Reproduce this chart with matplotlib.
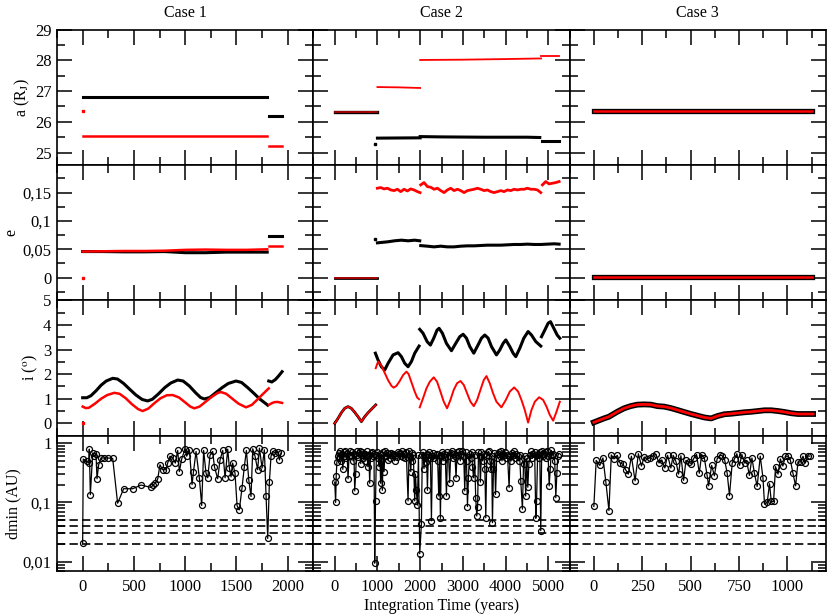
import numpy as np
import matplotlib
matplotlib.use("Agg")
import matplotlib.pyplot as plt
from matplotlib.ticker import MultipleLocator, FuncFormatter, LogLocator, NullFormatter

plt.rcParams['font.family'] = ['Liberation Serif', 'DejaVu Serif']
plt.rcParams['mathtext.fontset'] = 'stix'
plt.rcParams['font.size'] = 11.5

# ---------------- Case 1 ----------------
# semi-major axis (R_J)
c1_a_t1 = [0, 1800]
c1_a_black1 = [26.82, 26.82]
c1_a_red1 = [25.55, 25.55]
c1_a_t2 = [1820, 1940]
c1_a_black2 = [26.2, 26.2]
c1_a_red2 = [25.2, 25.2]
c1_a_red0 = (0, 26.35)

# eccentricity
c1_e_t1 = [0, 200, 400, 600, 800, 1000, 1200, 1400, 1600, 1800]
c1_e_black1 = [0.046, 0.046, 0.0455, 0.0455, 0.046, 0.044, 0.044, 0.045, 0.045, 0.045]
c1_e_red1 = [0.046, 0.0465, 0.047, 0.047, 0.0475, 0.049, 0.0495, 0.049, 0.049, 0.050]
c1_e_t2 = [1820, 1940]
c1_e_black2 = [0.073, 0.073]
c1_e_red2 = [0.0565, 0.0565]
c1_e_red0 = (0, 0.0)

# inclination (deg)
c1_i_bt1 = [0, 40, 80, 130, 180, 230, 293, 340, 400, 460, 520, 580, 634, 680, 740, 800, 860,
            927, 980, 1040, 1100, 1150, 1187, 1240, 1300, 1360, 1420, 1496, 1550, 1610, 1670,
            1730, 1805]
c1_i_black1 = [1.04, 1.04, 1.12, 1.32, 1.55, 1.72, 1.83, 1.8, 1.62, 1.38, 1.15, 0.97, 0.91, 0.98,
               1.2, 1.45, 1.64, 1.76, 1.72, 1.52, 1.25, 1.05, 0.99, 1.05, 1.25, 1.45, 1.62, 1.72,
               1.66, 1.45, 1.22, 0.98, 0.74]
c1_i_bt2 = [1815, 1845, 1880, 1910, 1945]
c1_i_black2 = [1.72, 1.68, 1.78, 1.92, 2.1]
c1_i_rt1 = [0, 30, 60, 120, 180, 240, 309, 360, 420, 480, 540, 585, 640, 700, 760, 820, 878,
            940, 1000, 1050, 1089, 1140, 1200, 1260, 1320, 1350, 1400, 1460, 1520, 1593, 1650,
            1700, 1760, 1815]
c1_i_red1 = [0.68, 0.62, 0.63, 0.8, 1.0, 1.15, 1.24, 1.2, 1.02, 0.78, 0.58, 0.5, 0.6, 0.82, 1.02,
             1.14, 1.15, 1.05, 0.85, 0.68, 0.61, 0.68, 0.88, 1.08, 1.24, 1.27, 1.2, 1.0, 0.8,
             0.65, 0.75, 0.95, 1.2, 1.42]
c1_i_rt2 = [1820, 1845, 1870, 1900, 1945]
c1_i_red2 = [0.76, 0.82, 0.86, 0.87, 0.83]
c1_i_red0 = (0, 0.0)

# minimum distance (AU)
c1_d_t = [0, 6, 39, 59, 65, 75, 98, 114, 130, 140, 156, 179, 211, 244, 293, 341, 400, 488, 569,
          667, 689, 709, 732, 754, 780, 813, 829, 852, 878, 904, 927, 943, 966, 998, 1015, 1041,
          1067, 1080, 1106, 1138, 1161, 1180, 1203, 1220, 1242, 1268, 1285, 1317, 1340, 1366,
          1389, 1415, 1431, 1447, 1463, 1486, 1506, 1528, 1554, 1577, 1597, 1620, 1642, 1659,
          1681, 1707, 1724, 1750, 1772, 1789, 1805, 1821, 1837, 1854, 1880, 1902, 1919, 1935]
c1_d = [0.0206, 0.537, 0.49, 0.46, 0.79, 0.135, 0.68, 0.60, 0.66, 0.25, 0.43, 0.56, 0.56, 0.56,
        0.55, 0.097, 0.17, 0.17, 0.196, 0.179, 0.196, 0.212, 0.247, 0.43, 0.355, 0.355, 0.46,
        0.60, 0.56, 0.46, 0.75, 0.33, 0.54, 0.79, 0.6, 0.77, 0.2, 0.32, 0.72, 0.26, 0.089, 0.75,
        0.31, 0.26, 0.62, 0.72, 0.4, 0.25, 0.52, 0.75, 0.26, 0.79, 0.38, 0.27, 0.46, 0.31, 0.088,
        0.075, 0.174, 0.4, 0.75, 0.24, 0.126, 0.8, 0.6, 0.355, 0.82, 0.38, 0.77, 0.126, 0.0247,
        0.218, 0.6, 0.72, 0.68, 0.7, 0.52, 0.68]

# ---------------- Case 2 ----------------
c2_a_t0 = [0, 1000]
c2_a_both0 = [26.33, 26.33]
c2_a_rt1 = [1000, 1500, 2000]
c2_a_red1 = [27.13, 27.12, 27.1]
c2_a_rt2 = [2000, 3000, 4000, 4830]
c2_a_red2 = [28.01, 28.02, 28.04, 28.06]
c2_a_rt3 = [4840, 5250]
c2_a_red3 = [28.14, 28.14]
c2_a_bt1 = [1000, 2000]
c2_a_black1 = [25.47, 25.48]
c2_a_bt2 = [2000, 2500, 3500, 4500, 4800]
c2_a_black2 = [25.52, 25.51, 25.5, 25.5, 25.49]
c2_a_bt3 = [4850, 5250]
c2_a_black3 = [25.37, 25.37]
c2_a_black0 = (940, 25.27)

c2_e_t0 = [0, 1000]
c2_e_both0 = [0.0, 0.0]
c2_e_bt1 = [1000, 1080, 1240, 1400, 1560, 1720, 1870, 1990]
c2_e_black1 = [0.0614, 0.062, 0.0632, 0.065, 0.0661, 0.065, 0.0661, 0.065]
c2_e_bt2 = [2013, 2169, 2325, 2481, 2637, 2793, 2950, 3106, 3262, 3418, 3574, 3730, 3887, 4043,
            4199, 4355, 4511, 4667, 4823, 4979, 5136, 5253]
c2_e_black2 = [0.0565, 0.0555, 0.0543, 0.0555, 0.0543, 0.0543, 0.0555, 0.0561, 0.0561, 0.0567,
               0.0573, 0.0573, 0.0573, 0.0579, 0.0585, 0.0585, 0.0591, 0.0585, 0.0585, 0.0591,
               0.0597, 0.0591]
c2_e_black0 = (940, 0.068)
c2_e_rt1 = [998, 1077, 1155, 1233, 1311, 1389, 1467, 1545, 1623, 1701, 1779, 1857, 1935, 1998]
c2_e_red1 = [0.1578, 0.159, 0.1566, 0.1578, 0.1548, 0.1536, 0.156, 0.1518, 0.156, 0.153, 0.1566,
             0.1548, 0.1518, 0.1501]
c2_e_rt2 = [2013, 2091, 2169, 2248, 2326, 2404, 2482, 2560, 2638, 2716, 2794, 2872, 2950, 3028,
            3106, 3184, 3262, 3340, 3418, 3496, 3574, 3652, 3730, 3809, 3887, 3965, 4043, 4121,
            4199, 4277, 4355, 4433, 4511, 4589, 4667, 4745, 4823]
c2_e_red2 = [0.1637, 0.1678, 0.1607, 0.1595, 0.156, 0.1578, 0.1536, 0.1501, 0.1548, 0.1578,
             0.1536, 0.156, 0.1536, 0.1501, 0.1536, 0.1548, 0.156, 0.1578, 0.156, 0.1536, 0.1548,
             0.1518, 0.1501, 0.1518, 0.1536, 0.1518, 0.1548, 0.1536, 0.156, 0.1548, 0.156, 0.156,
             0.1578, 0.156, 0.156, 0.1548, 0.1501]
c2_e_rt3 = [4862, 4940, 5018, 5096, 5174, 5253]
c2_e_red3 = [0.1637, 0.1696, 0.1654, 0.1666, 0.1678, 0.1696]

c2_i_t0 = [0, 77, 155, 233, 312, 390, 468, 546, 624, 702, 780, 858, 960]
c2_i_both0 = [0.0, 0.2, 0.43, 0.61, 0.68, 0.61, 0.45, 0.27, 0.07, 0.27, 0.43, 0.57, 0.75]
c2_i_rt1 = [960, 1015, 1090, 1170, 1250, 1330, 1380, 1444, 1522, 1600, 1678, 1730, 1800, 1870,
            1930, 1975]
c2_i_red1 = [2.24, 2.51, 2.35, 2.05, 1.75, 1.52, 1.45, 1.52, 1.72, 1.96, 2.1, 2.0, 1.65, 1.3,
             1.05, 0.98]
c2_i_rt2 = [1990, 2068, 2147, 2225, 2318, 2396, 2474, 2552, 2630, 2708, 2786, 2864, 2943, 3021,
            3099, 3177, 3255, 3333, 3411, 3489, 3552, 3629, 3707, 3785, 3902, 4005, 4098, 4200,
            4293, 4371, 4449, 4527, 4605, 4684, 4785, 4879, 4957, 5035, 5113, 5191, 5269]
c2_i_red2 = [0.65, 1.02, 1.42, 1.69, 1.87, 1.69, 1.29, 0.88, 0.61, 0.95, 1.36, 1.63, 1.72, 1.56,
             1.22, 0.88, 0.70, 0.95, 1.36, 1.76, 1.92, 1.63, 1.22, 0.88, 0.65, 0.95, 1.29, 1.46,
             1.29, 0.95, 0.54, 0.03, 0.54, 0.88, 1.06, 0.95, 0.68, 0.34, 0.11, 0.47, 0.88]
c2_i_bt1 = [952, 1015, 1092, 1171, 1249, 1366, 1483, 1561, 1639, 1717, 1795, 1873, 1975]
c2_i_black1 = [2.85, 2.57, 2.30, 2.17, 2.44, 2.78, 2.87, 2.71, 2.44, 2.30, 2.51, 2.85, 3.14]
c2_i_bt2 = [1990, 2068, 2163, 2240, 2318, 2396, 2443, 2521, 2615, 2732, 2833, 2927, 3005, 3084,
            3162, 3255, 3357, 3435, 3513, 3591, 3669, 3786, 3864, 3942, 4005, 4098, 4176, 4238,
            4332, 4426, 4527, 4605, 4707, 4824]
c2_i_black2 = [3.82, 3.66, 3.32, 3.18, 3.46, 3.79, 3.86, 3.66, 3.25, 2.95, 3.25, 3.52, 3.62, 3.46,
               3.12, 2.85, 3.19, 3.46, 3.59, 3.46, 3.12, 2.78, 2.98, 3.25, 3.39, 3.12, 2.85, 2.71,
               3.05, 3.46, 3.73, 3.59, 3.32, 3.14]
c2_i_bt3 = [4840, 4918, 4996, 5051, 5129, 5207, 5269]
c2_i_black3 = [3.52, 3.79, 4.07, 4.13, 3.86, 3.59, 3.46]

c2_d_t = [0, 22, 35, 50, 70, 90, 110, 130, 150, 170, 190, 210, 230, 250, 270, 290, 312, 335, 360,
          385, 410, 430, 450, 468, 490, 510, 530, 550, 570, 590, 610, 630, 650, 670, 690, 710,
          730, 750, 775, 800, 819, 840, 860, 880, 900, 920, 936, 955, 975, 995, 1015, 1035, 1055,
          1075, 1095, 1115, 1135, 1155, 1175, 1200, 1225, 1250, 1275, 1300, 1325, 1350, 1375,
          1400, 1425, 1450, 1475, 1500, 1525, 1550, 1575, 1600, 1625, 1650, 1675, 1717, 1740,
          1760, 1780, 1800, 1820, 1840, 1873, 1890, 1910, 1935, 1960, 1990, 2029, 2050, 2070,
          2090, 2110, 2130, 2150, 2170, 2190, 2215, 2240, 2264, 2285, 2310, 2335, 2360, 2385,
          2410, 2435, 2455, 2474, 2495, 2515, 2535, 2560, 2590, 2615, 2640, 2665, 2690, 2715,
          2740, 2765, 2790, 2815, 2840, 2865, 2890, 2915, 2940, 2965, 2990, 3020, 3044, 3065,
          3085, 3107, 3130, 3155, 3180, 3205, 3225, 3250, 3275, 3300, 3325, 3345, 3365, 3390,
          3410, 3435, 3460, 3490, 3515, 3536, 3560, 3580, 3605, 3630, 3655, 3675, 3692, 3715,
          3740, 3765, 3790, 3815, 3840, 3865, 3890, 3915, 3940, 3965, 3990, 4020, 4045, 4082,
          4105, 4130, 4155, 4180, 4205, 4230, 4255, 4280, 4305, 4330, 4355, 4394, 4420, 4445,
          4470, 4495, 4520, 4545, 4570, 4600, 4625, 4650, 4680, 4707, 4725, 4750, 4775, 4800,
          4823, 4845, 4870, 4895, 4920, 4945, 4970, 4995, 5020, 5045, 5070, 5095, 5120, 5150,
          5175, 5200, 5220, 5240]
c2_d = [0.22, 0.10, 0.28, 0.47, 0.61, 0.68, 0.55, 0.72, 0.5, 0.65, 0.36, 0.7, 0.6, 0.72, 0.55,
        0.66, 0.25, 0.6, 0.72, 0.62, 0.7, 0.5, 0.66, 0.156, 0.3, 0.62, 0.72, 0.58, 0.68, 0.73,
        0.45, 0.62, 0.7, 0.55, 0.66, 0.5, 0.63, 0.72, 0.4, 0.62, 0.21, 0.68, 0.55, 0.7, 0.6, 0.66,
        0.0095, 0.106, 0.62, 0.7, 0.55, 0.4, 0.66, 0.21, 0.62, 0.16, 0.7, 0.33, 0.72, 0.6, 0.68,
        0.52, 0.65, 0.55, 0.68, 0.62, 0.66, 0.5, 0.62, 0.58, 0.7, 0.65, 0.68, 0.6, 0.72, 0.58,
        0.66, 0.55, 0.7, 0.106, 0.74, 0.6, 0.33, 0.68, 0.5, 0.62, 0.106, 0.3, 0.16, 0.09, 0.62,
        0.0137, 0.043, 0.62, 0.7, 0.37, 0.6, 0.48, 0.66, 0.16, 0.62, 0.7, 0.55, 0.049, 0.6, 0.68,
        0.55, 0.62, 0.66, 0.5, 0.128, 0.6, 0.054, 0.62, 0.7, 0.5, 0.66, 0.58, 0.128, 0.7, 0.6,
        0.216, 0.68, 0.72, 0.55, 0.66, 0.6, 0.26, 0.7, 0.62, 0.72, 0.5, 0.66, 0.72, 0.6, 0.156,
        0.7, 0.5, 0.085, 0.26, 0.66, 0.55, 0.7, 0.4, 0.26, 0.62, 0.12, 0.059, 0.085, 0.7, 0.6,
        0.22, 0.7, 0.5, 0.66, 0.36, 0.055, 0.62, 0.7, 0.72, 0.5, 0.36, 0.6, 0.0455, 0.36, 0.68,
        0.136, 0.55, 0.66, 0.7, 0.6, 0.72, 0.5, 0.66, 0.62, 0.7, 0.55, 0.62, 0.178, 0.6, 0.5,
        0.68, 0.62, 0.72, 0.55, 0.66, 0.6, 0.5, 0.62, 0.23, 0.077, 0.45, 0.6, 0.128, 0.55, 0.18,
        0.45, 0.62, 0.72, 0.55, 0.66, 0.7, 0.054, 0.106, 0.66, 0.55, 0.7, 0.0335, 0.72, 0.6,
        0.66, 0.7, 0.55, 0.72, 0.6, 0.19, 0.36, 0.75, 0.62, 0.66, 0.5, 0.12, 0.31, 0.6, 0.66]

# ---------------- Case 3 ----------------
c3_a_t = [0, 1130]
c3_a = [26.35, 26.35]
c3_e_t = [0, 1130]
c3_e = [0.001, 0.001]
c3_i_t = [0, 52, 78, 121, 156, 190, 225, 260, 294, 329, 363, 398, 433, 467, 502, 536, 571, 606,
          640, 675, 709, 744, 779, 813, 848, 882, 917, 952, 986, 1021, 1055, 1090, 1133]
c3_i = [0.04, 0.20, 0.27, 0.47, 0.61, 0.70, 0.76, 0.77, 0.76, 0.70, 0.68, 0.62, 0.54, 0.46, 0.38,
        0.31, 0.24, 0.20, 0.30, 0.37, 0.39, 0.42, 0.45, 0.47, 0.50, 0.53, 0.53, 0.50, 0.46, 0.41,
        0.38, 0.38, 0.38]
c3_d_t = [0, 12, 31, 47, 62, 78, 90, 104, 121, 135, 151, 164, 178, 194, 213, 230, 246, 260, 277,
          291, 306, 320, 337, 351, 367, 381, 398, 410, 424, 438, 450, 464, 476, 490, 503, 519,
          531, 545, 557, 571, 585, 593, 609, 623, 637, 651, 664, 676, 689, 701, 715, 727, 739,
          753, 765, 779, 789, 804, 817, 830, 844, 860, 874, 882, 896, 908, 917, 929, 939, 952,
          964, 977, 990, 1003, 1016, 1029, 1043, 1055, 1069, 1081, 1093, 1107, 1116]
c3_d = [0.0857, 0.51, 0.42, 0.56, 0.22, 0.073, 0.63, 0.54, 0.62, 0.46, 0.44, 0.355, 0.30, 0.60,
        0.23, 0.66, 0.41, 0.58, 0.54, 0.57, 0.61, 0.65, 0.46, 0.52, 0.38, 0.62, 0.38, 0.62, 0.49,
        0.30, 0.61, 0.235, 0.51, 0.48, 0.45, 0.57, 0.64, 0.31, 0.64, 0.56, 0.29, 0.19, 0.42, 0.28,
        0.54, 0.62, 0.61, 0.52, 0.31, 0.13, 0.46, 0.54, 0.66, 0.42, 0.64, 0.46, 0.51, 0.285, 0.56,
        0.31, 0.186, 0.60, 0.26, 0.094, 0.1, 0.206, 0.104, 0.104, 0.40, 0.30, 0.54, 0.41, 0.60,
        0.60, 0.51, 0.31, 0.19, 0.48, 0.48, 0.60, 0.46, 0.61, 0.60]

# collision distance thresholds (dashed lines)
d_limits = [0.02, 0.03, 0.04, 0.05]

titles = ["Case 1", "Case 2", "Case 3"]
xlims = [(-250, 2250), (-500, 5500), (-125, 1200)]
xmajor = [500, 1000, 250]
xminor = [250, 500, 125]

fig, axs = plt.subplots(4, 3, figsize=(8.3, 6.15), dpi=100, sharex='col', sharey='row')
fig.subplots_adjust(left=0.0687, right=0.9952, top=0.952, bottom=0.0715, wspace=0, hspace=0)

RED = '#ff0000'

# Case 1
ax = axs[0, 0]
ax.plot(c1_a_t1, c1_a_black1, color='k', lw=2.2)
ax.plot(c1_a_t2, c1_a_black2, color='k', lw=2.2)
ax.plot(c1_a_t1, c1_a_red1, color=RED, lw=1.8)
ax.plot(c1_a_t2, c1_a_red2, color=RED, lw=1.8)
ax.plot(*c1_a_red0, 's', color=RED, ms=1.5)
ax = axs[1, 0]
ax.plot(c1_e_t1, c1_e_black1, color='k', lw=2.2)
ax.plot(c1_e_t2, c1_e_black2, color='k', lw=2.2)
ax.plot(c1_e_t1, c1_e_red1, color=RED, lw=1.8)
ax.plot(c1_e_t2, c1_e_red2, color=RED, lw=1.8)
ax.plot(*c1_e_red0, 's', color=RED, ms=1.5)
ax = axs[2, 0]
ax.plot(c1_i_bt1, c1_i_black1, color='k', lw=2.2)
ax.plot(c1_i_bt2, c1_i_black2, color='k', lw=2.2)
ax.plot(c1_i_rt1, c1_i_red1, color=RED, lw=1.8)
ax.plot(c1_i_rt2, c1_i_red2, color=RED, lw=1.8)
ax.plot(*c1_i_red0, 's', color=RED, ms=1.5)

# Case 2
ax = axs[0, 1]
ax.plot(c2_a_t0, c2_a_both0, color='k', lw=2.4)
ax.plot(c2_a_t0, c2_a_both0, color='#c00000', lw=1.2)
ax.plot(c2_a_bt1, c2_a_black1, color='k', lw=2.2)
ax.plot(c2_a_bt2, c2_a_black2, color='k', lw=2.2)
ax.plot(c2_a_bt3, c2_a_black3, color='k', lw=2.2)
ax.plot(*c2_a_black0, 's', color='k', ms=1.5)
ax.plot(c2_a_rt1, c2_a_red1, color=RED, lw=1.3)
ax.plot(c2_a_rt2, c2_a_red2, color=RED, lw=1.3)
ax.plot(c2_a_rt3, c2_a_red3, color=RED, lw=1.3)
ax = axs[1, 1]
ax.plot(c2_e_t0, c2_e_both0, color='k', lw=2.0)
ax.plot(c2_e_t0, c2_e_both0, color='#c00000', lw=1.2)
ax.plot(c2_e_bt1, c2_e_black1, color='k', lw=2.2)
ax.plot(c2_e_bt2, c2_e_black2, color='k', lw=2.2)
ax.plot(*c2_e_black0, 's', color='k', ms=1.5)
ax.plot(c2_e_rt1, c2_e_red1, color=RED, lw=2.0)
ax.plot(c2_e_rt2, c2_e_red2, color=RED, lw=2.0)
ax.plot(c2_e_rt3, c2_e_red3, color=RED, lw=2.0)
ax = axs[2, 1]
ax.plot(c2_i_t0, c2_i_both0, color='k', lw=2.0)
ax.plot(c2_i_t0, c2_i_both0, color=RED, lw=1.2)
ax.plot(c2_i_bt1, c2_i_black1, color='k', lw=2.2)
ax.plot(c2_i_bt2, c2_i_black2, color='k', lw=2.2)
ax.plot(c2_i_bt3, c2_i_black3, color='k', lw=2.2)
ax.plot(c2_i_rt1, c2_i_red1, color=RED, lw=1.4)
ax.plot(c2_i_rt2, c2_i_red2, color=RED, lw=1.4)

# Case 3
ax = axs[0, 2]
ax.plot(c3_a_t, c3_a, color='k', lw=3.8)
ax.plot(c3_a_t, c3_a, color=RED, lw=1.8)
ax = axs[1, 2]
ax.plot(c3_e_t, c3_e, color='k', lw=3.8)
ax.plot(c3_e_t, c3_e, color=RED, lw=1.8)
ax = axs[2, 2]
ax.plot(c3_i_t, c3_i, color='k', lw=4.2)
ax.plot(c3_i_t, c3_i, color=RED, lw=2.0)

# dmin panels
for ax, t, d in zip(axs[3], [c1_d_t, c2_d_t, c3_d_t], [c1_d, c2_d, c3_d]):
    ax.plot(t, d, color='k', lw=0.9, marker='o', ms=4.3, mfc='none', mec='k', mew=0.9)
    for v in d_limits:
        ax.axhline(v, color='k', lw=1.2, ls=(0, (5, 2.5)))
    ax.set_yscale('log')

comma = FuncFormatter(lambda v, p: ('%g' % v).replace('.', ','))

axs[0, 0].set_ylim(24.6, 29)
axs[0, 0].yaxis.set_major_locator(MultipleLocator(1))
axs[0, 0].yaxis.set_minor_locator(MultipleLocator(0.5))
axs[1, 0].set_ylim(-0.04, 0.199)
axs[1, 0].yaxis.set_major_locator(MultipleLocator(0.05))
axs[1, 0].yaxis.set_minor_locator(MultipleLocator(0.025))
axs[2, 0].set_ylim(-0.5, 5)
axs[2, 0].yaxis.set_major_locator(MultipleLocator(1))
axs[2, 0].yaxis.set_minor_locator(MultipleLocator(0.5))
axs[3, 0].set_ylim(0.007, 1.33)
axs[3, 0].yaxis.set_major_locator(LogLocator(base=10, numticks=10))
axs[3, 0].yaxis.set_minor_locator(LogLocator(base=10, subs=np.arange(2, 10), numticks=20))
axs[3, 0].yaxis.set_minor_formatter(NullFormatter())
for r in range(4):
    axs[r, 0].yaxis.set_major_formatter(comma)

axs[0, 0].set_ylabel('a (R$_\\mathrm{J}$)', labelpad=2)
axs[1, 0].set_ylabel('e', labelpad=2)
axs[2, 0].set_ylabel('i ($^\\mathrm{o}$)', labelpad=2)
axs[3, 0].set_ylabel('dmin (AU)', labelpad=1)

for c in range(3):
    axs[0, c].set_title(titles[c], fontsize=11.5, pad=9)
    axs[3, c].set_xlim(*xlims[c])
    axs[3, c].xaxis.set_major_locator(MultipleLocator(xmajor[c]))
    axs[3, c].xaxis.set_minor_locator(MultipleLocator(xminor[c]))
axs[3, 1].set_xlabel('Integration Time (years)', labelpad=2)

for ax in axs.flat:
    ax.tick_params(which='both', direction='in', top=True, right=True, width=1.1,
                   labelsize=12)
    ax.tick_params(which='major', length=11)
    ax.tick_params(which='minor', length=5.5)
    ax.tick_params(axis='y', pad=4)
    ax.tick_params(axis='x', pad=6)
    for s in ax.spines.values():
        s.set_linewidth(1.2)

fig.savefig('out.png', dpi=100)
